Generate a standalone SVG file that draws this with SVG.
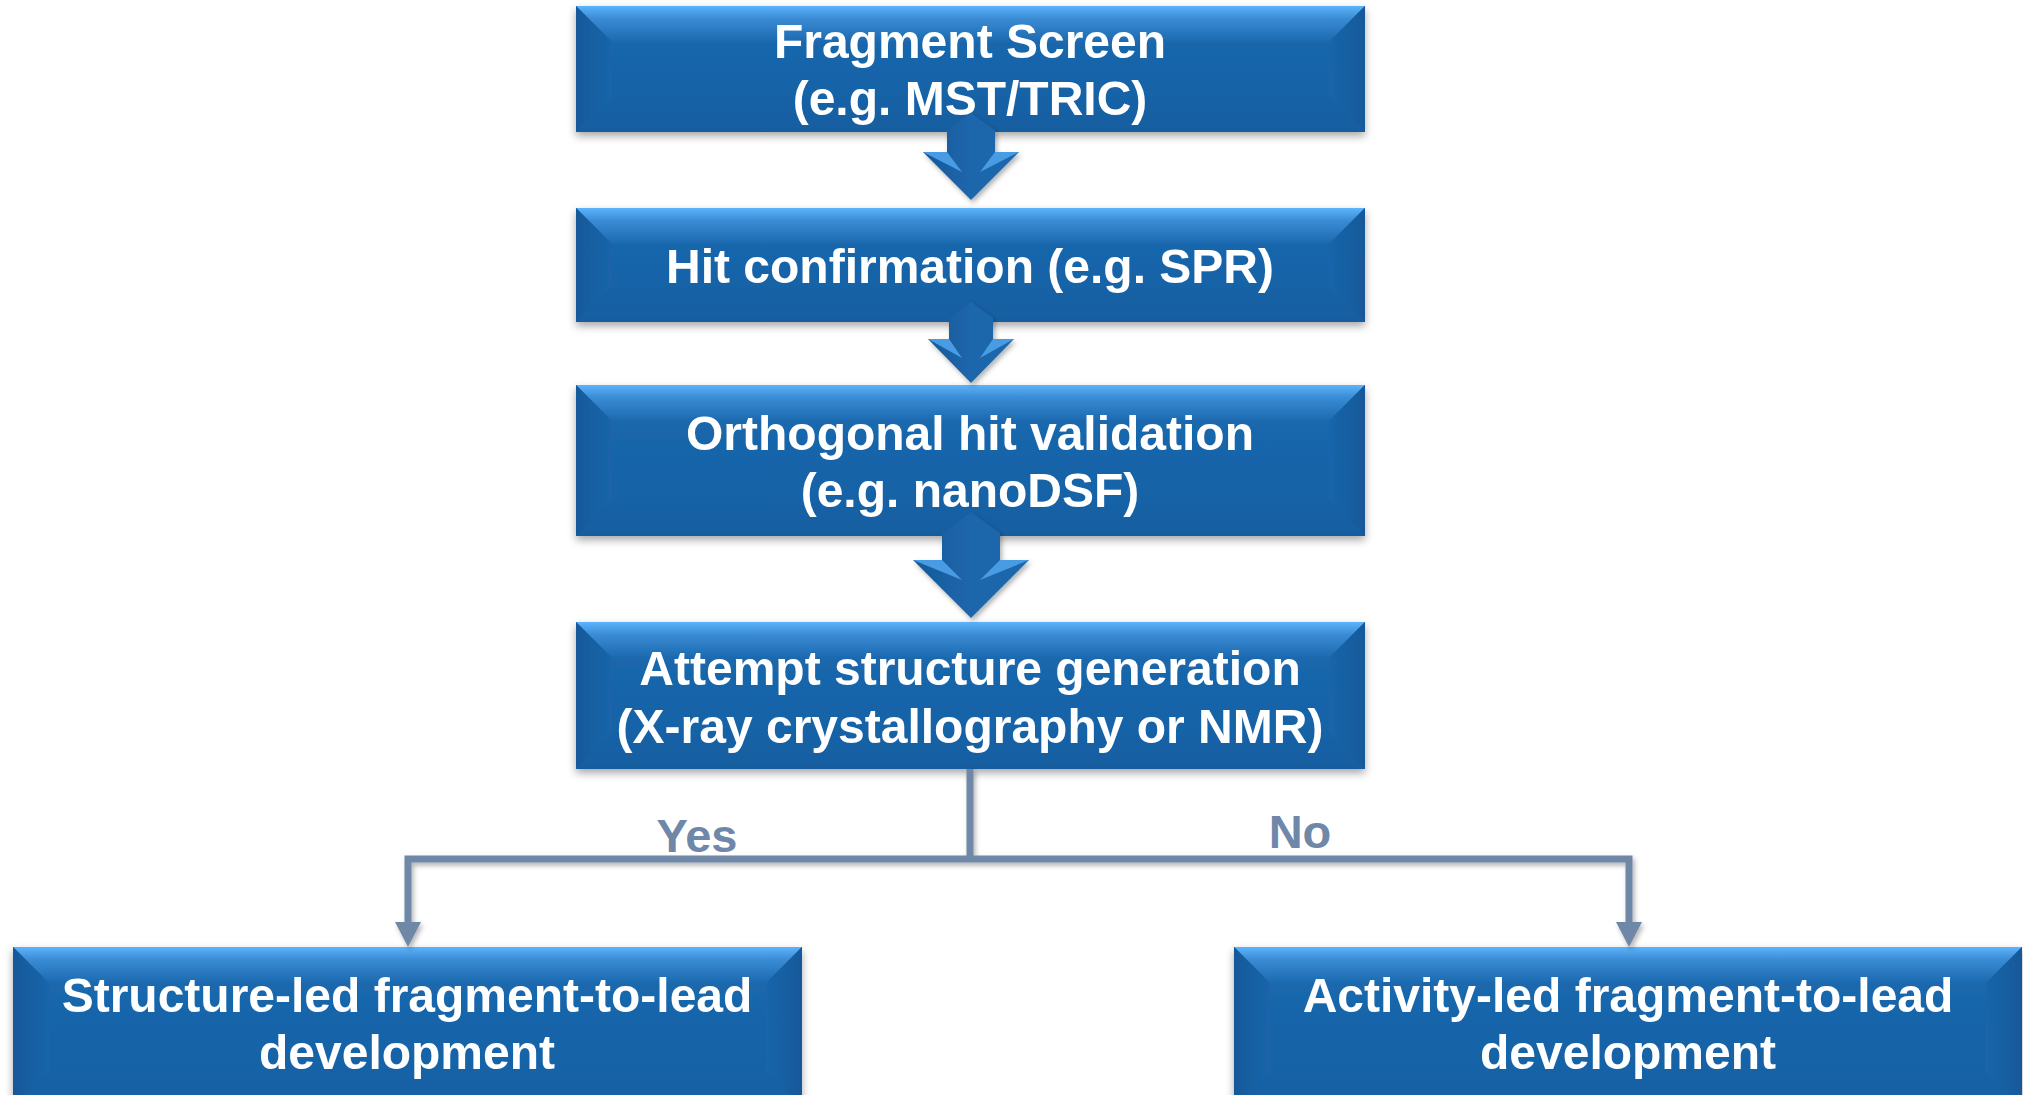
<svg xmlns="http://www.w3.org/2000/svg" width="2023" height="1095" viewBox="0 0 2023 1095">
<defs>
  <linearGradient id="gMain" x1="0" y1="0" x2="0" y2="1">
    <stop offset="0" stop-color="#1C69AF"/>
    <stop offset="1" stop-color="#1460A4"/>
  </linearGradient>
  <linearGradient id="gTop" x1="0" y1="0" x2="0" y2="1">
    <stop offset="0" stop-color="#5CB4FC"/>
    <stop offset="0.35" stop-color="#3A8CD4"/>
    <stop offset="1" stop-color="#1C69AF"/>
  </linearGradient>
  <linearGradient id="gLeft" x1="0" y1="0" x2="1" y2="0">
    <stop offset="0" stop-color="#14599A"/>
    <stop offset="1" stop-color="#1A65AA"/>
  </linearGradient>
  <linearGradient id="gRight" x1="1" y1="0" x2="0" y2="0">
    <stop offset="0" stop-color="#14599A"/>
    <stop offset="1" stop-color="#1A65AA"/>
  </linearGradient>
  <linearGradient id="gBottom" x1="0" y1="1" x2="0" y2="0">
    <stop offset="0" stop-color="#135DA0"/>
    <stop offset="1" stop-color="#1662A6"/>
  </linearGradient>
  <linearGradient id="gShaftL" x1="0" y1="0" x2="1" y2="0">
    <stop offset="0" stop-color="#175A98"/>
    <stop offset="1" stop-color="#1C66AC"/>
  </linearGradient>
  <filter id="shadow" x="-5%" y="-10%" width="110%" height="130%">
    <feDropShadow dx="0" dy="4" stdDeviation="4" flood-color="#000" flood-opacity="0.35"/>
  </filter>
  <filter id="lshadow" x="-10%" y="-10%" width="120%" height="130%">
    <feDropShadow dx="2" dy="3" stdDeviation="2.5" flood-color="#000" flood-opacity="0.3"/>
  </filter>
</defs>
<style>
  .t { font-family: "Liberation Sans", Arial, sans-serif; font-weight: bold; font-size: 48px; fill: #FFFFFF; text-anchor: middle; }
  .lbl { font-family: "Liberation Sans", Arial, sans-serif; font-weight: bold; font-size: 47px; fill: #6F87A8; text-anchor: middle; }
  .conn { stroke: #7088A8; stroke-width: 7; fill: none; }
  .head { fill: #7088A8; }
</style>
<rect width="2023" height="1095" fill="#FFFFFF"/>

<g id="box1" filter="url(#shadow)">
  <rect x="576" y="6" width="789" height="126" fill="url(#gMain)"/>
  <polygon points="576,6 1365,6 1329,42 612,42" fill="url(#gTop)"/>
  <polygon points="576,6 612,42 612,96 576,132" fill="url(#gLeft)"/>
  <polygon points="1365,6 1329,42 1329,96 1365,132" fill="url(#gRight)"/>
  <polygon points="576,132 612,96 1329,96 1365,132" fill="url(#gBottom)"/>
  <text class="t" x="970" y="58">Fragment Screen</text>
  <text class="t" x="970" y="115">(e.g. MST/TRIC)</text>
</g>

<g id="box2" filter="url(#shadow)">
  <rect x="576" y="208" width="789" height="114" fill="url(#gMain)"/>
  <polygon points="576,208 1365,208 1329,244 612,244" fill="url(#gTop)"/>
  <polygon points="576,208 612,244 612,286 576,322" fill="url(#gLeft)"/>
  <polygon points="1365,208 1329,244 1329,286 1365,322" fill="url(#gRight)"/>
  <polygon points="576,322 612,286 1329,286 1365,322" fill="url(#gBottom)"/>
  <text class="t" x="970" y="283">Hit confirmation (e.g. SPR)</text>
</g>

<g id="box3" filter="url(#shadow)">
  <rect x="576" y="385" width="789" height="151" fill="url(#gMain)"/>
  <polygon points="576,385 1365,385 1329,421 612,421" fill="url(#gTop)"/>
  <polygon points="576,385 612,421 612,500 576,536" fill="url(#gLeft)"/>
  <polygon points="1365,385 1329,421 1329,500 1365,536" fill="url(#gRight)"/>
  <polygon points="576,536 612,500 1329,500 1365,536" fill="url(#gBottom)"/>
  <text class="t" x="970" y="450">Orthogonal hit validation</text>
  <text class="t" x="970" y="507">(e.g. nanoDSF)</text>
</g>

<g id="box4" filter="url(#shadow)">
  <rect x="576" y="622" width="789" height="147" fill="url(#gMain)"/>
  <polygon points="576,622 1365,622 1329,658 612,658" fill="url(#gTop)"/>
  <polygon points="576,622 612,658 612,733 576,769" fill="url(#gLeft)"/>
  <polygon points="1365,622 1329,658 1329,733 1365,769" fill="url(#gRight)"/>
  <polygon points="576,769 612,733 1329,733 1365,769" fill="url(#gBottom)"/>
  <text class="t" x="970" y="685">Attempt structure generation</text>
  <text class="t" x="970" y="743">(X-ray crystallography or NMR)</text>
</g>

<g id="box5" filter="url(#shadow)">
  <rect x="13" y="947" width="789" height="160" fill="url(#gMain)"/>
  <polygon points="13,947 802,947 766,983 49,983" fill="url(#gTop)"/>
  <polygon points="13,947 49,983 49,1071 13,1107" fill="url(#gLeft)"/>
  <polygon points="802,947 766,983 766,1071 802,1107" fill="url(#gRight)"/>
  <text class="t" x="407" y="1012">Structure-led fragment-to-lead</text>
  <text class="t" x="407" y="1069">development</text>
</g>

<g id="box6" filter="url(#shadow)">
  <rect x="1234" y="947" width="788" height="160" fill="url(#gMain)"/>
  <polygon points="1234,947 2022,947 1986,983 1270,983" fill="url(#gTop)"/>
  <polygon points="1234,947 1270,983 1270,1071 1234,1107" fill="url(#gLeft)"/>
  <polygon points="2022,947 1986,983 1986,1071 2022,1107" fill="url(#gRight)"/>
  <text class="t" x="1628" y="1012">Activity-led fragment-to-lead</text>
  <text class="t" x="1628" y="1069">development</text>
</g>

<g id="connectors">
  <g id="arrow1" filter="url(#lshadow)">
    <polygon points="971,113 947,130 947,152 923,152 971,200" fill="url(#gShaftL)"/>
    <polygon points="971,113 995,130 995,152 1019,152 971,200" fill="#1C66AC"/>
    <polygon points="923,152 947,152 962,172" fill="#4A9CE4"/>
    <polygon points="1019,152 995,152 980,172" fill="#4A9CE4"/>
  </g>
  <g id="arrow2" filter="url(#lshadow)">
    <polygon points="971,302 949,318 949,339 928,339 971,383" fill="url(#gShaftL)"/>
    <polygon points="971,302 993,318 993,339 1014,339 971,383" fill="#1C66AC"/>
    <polygon points="928,339 949,339 962,358" fill="#4A9CE4"/>
    <polygon points="1014,339 993,339 980,358" fill="#4A9CE4"/>
  </g>
  <g id="arrow3" filter="url(#lshadow)">
    <polygon points="971,512 942,533 942,560 913,560 971,618" fill="url(#gShaftL)"/>
    <polygon points="971,512 1000,533 1000,560 1029,560 971,618" fill="#1C66AC"/>
    <polygon points="913,560 942,560 962,580" fill="#4A9CE4"/>
    <polygon points="1029,560 1000,560 980,580" fill="#4A9CE4"/>
  </g>
  <g id="branch" filter="url(#lshadow)">
    <polyline class="conn" points="970,769 970,859"/>
    <polyline class="conn" points="408,926 408,859 1629,859 1629,926" stroke-linejoin="miter"/>
    <polygon class="head" points="395,922 421,922 408,947"/>
    <polygon class="head" points="1616,922 1642,922 1629,947"/>
  </g>
  <text class="lbl" x="697" y="852">Yes</text>
  <text class="lbl" x="1300" y="848">No</text>
</g>
</svg>
